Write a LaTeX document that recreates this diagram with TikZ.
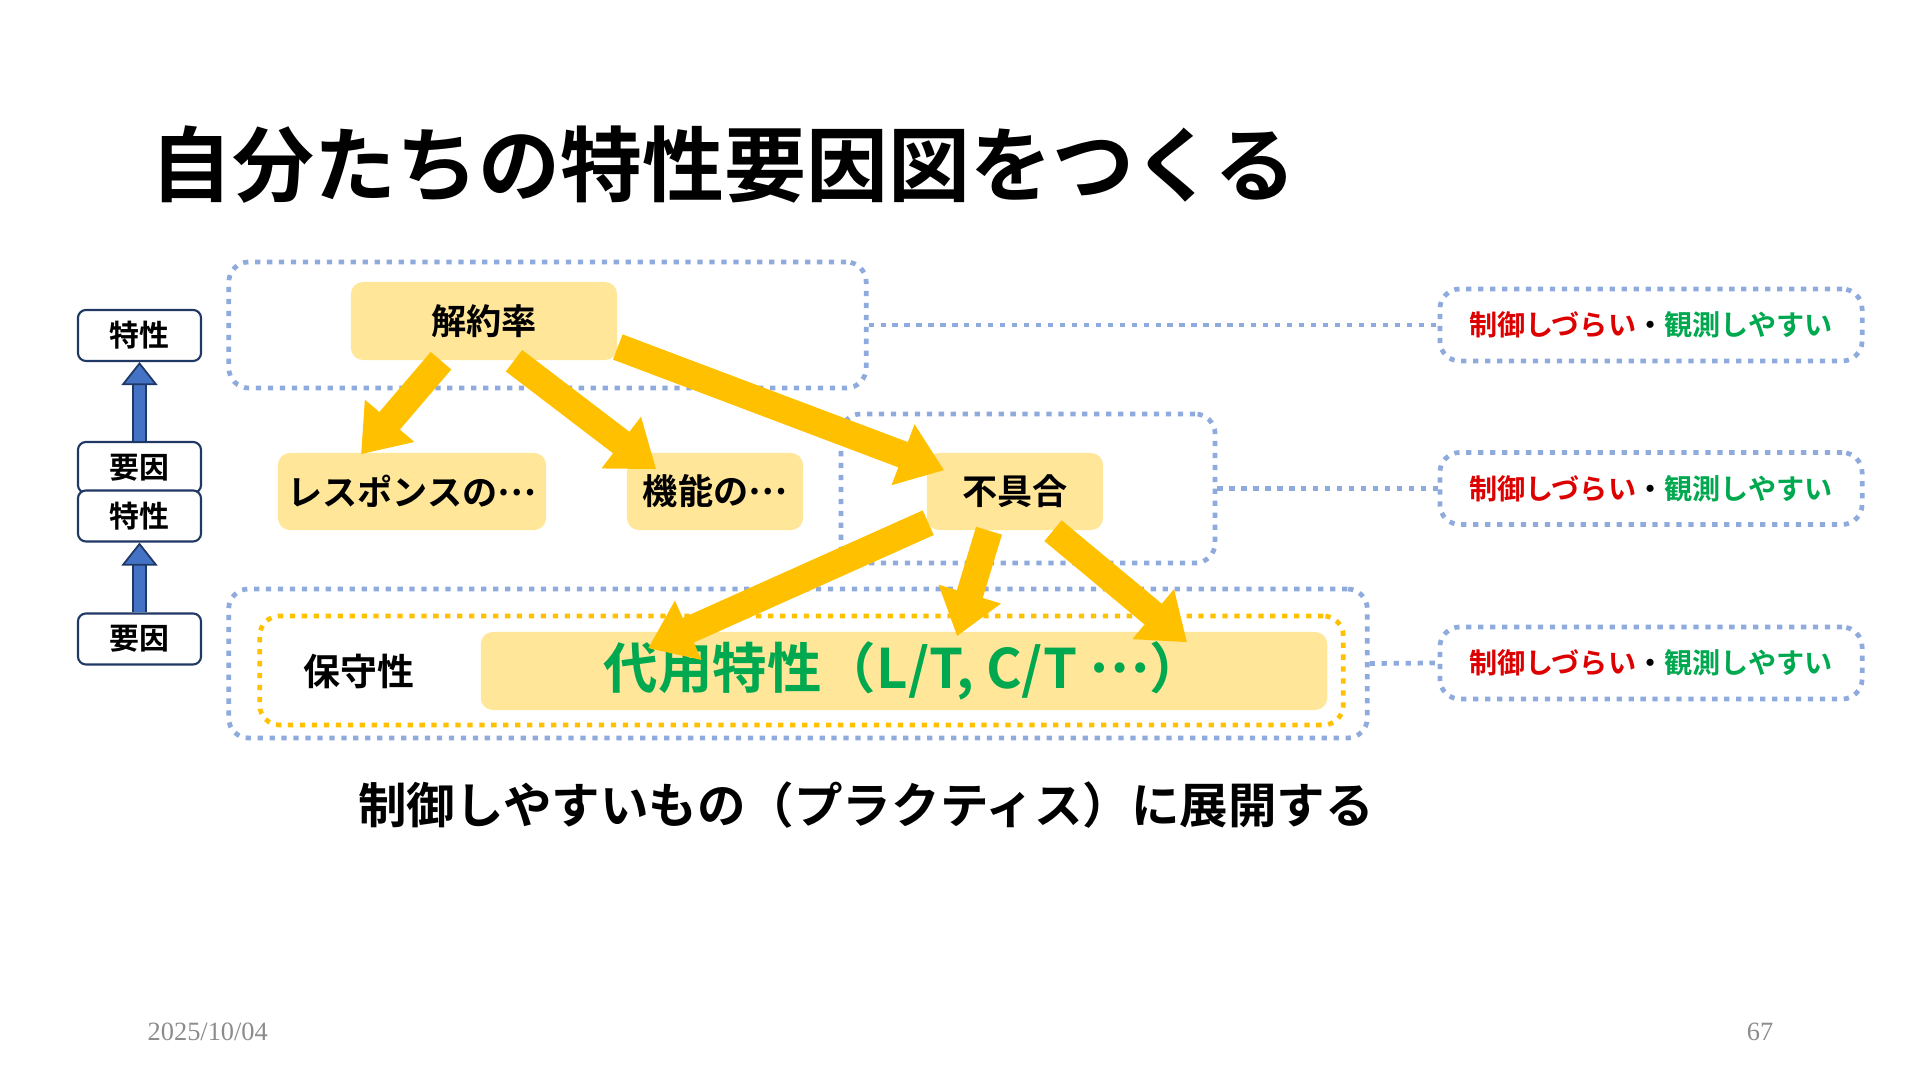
\documentclass[tikz,border=0pt]{standalone}
\usepackage{fontspec}
\setmainfont{Noto Sans CJK JP}[BoldFont={* Bold}]
\newfontfamily\footfont{Liberation Serif}
\newcommand{\jellip}{\raisebox{0.3em}{…}}
\usetikzlibrary{arrows.meta,calc}

\definecolor{cellyellow}{HTML}{FFE699}
\definecolor{arrowgold}{HTML}{FFC000}
\definecolor{dotblue}{HTML}{8FAADC}
\definecolor{textgreen}{HTML}{00A84F}
\definecolor{textred}{HTML}{DD0000}
\definecolor{navy}{HTML}{1F3864}
\definecolor{upblue}{HTML}{4472C4}
\definecolor{footgray}{HTML}{8C8C8C}

\begin{document}
\begin{tikzpicture}[x=0.01cm,y=-0.01cm,
  cell/.style={fill=cellyellow,rounded corners=0.12cm,inner sep=0pt,
    font=\fontsize{10}{12}\selectfont\bfseries},
  group/.style={draw=dotblue,line width=1.35pt,dash pattern=on 1.5pt off 1.9pt,
    rounded corners=0.2cm,inner sep=0pt},
  levelbox/.style={draw=navy,line width=0.6pt,fill=white,rounded corners=0.08cm,
    minimum width=1.23cm,minimum height=0.51cm,inner sep=0pt,
    font=\fontsize{8.5}{10}\selectfont\bfseries},
  notebox/.style={group,minimum width=4.22cm,minimum height=0.72cm,
    font=\fontsize{8}{10}\selectfont\bfseries},
  flow/.style={draw=arrowgold,line width=0.27cm,-{Triangle[width=0.62cm,length=0.44cm]}},
  rise/.style={draw=upblue,line width=0.11cm,
    -{Triangle[width=0.36cm,length=0.23cm,fill=upblue,color=navy,line width=0.5pt]},
    preaction={draw=navy,line width=0.14cm,-,shorten >=0.2cm}},
]
  \useasboundingbox (0,0) rectangle (1920,1080);

  % title
  \node[anchor=west,inner sep=0pt,font=\fontsize{23.3}{27}\selectfont\bfseries] (title) at (150,165)
    {自分たちの特性要因図をつくる};

  % dotted groups
  \node[group,minimum width=6.37cm,minimum height=1.26cm] (grpTop) at (547.5,325) {};
  \node[group,minimum width=3.74cm,minimum height=1.49cm] (grpMid) at (1028,488.5) {};
  \node[group,minimum width=11.38cm,minimum height=1.49cm] (grpBot) at (798,663.5) {};
  \node[group,draw=arrowgold,minimum width=10.83cm,minimum height=1.09cm] (grpKeep) at (801.5,670.5) {};

  % notes on the right
  \foreach \n/\y in {1/325,2/488.5,3/663}
    \node[notebox] (note\n) at (1651,\y)
      {{\color{textred}制御しづらい}・{\color{textgreen}観測しやすい}};
  \draw[group] (grpTop.east) -- (note1.west);
  \draw[group] (grpMid.east) -- (note2.west);
  \draw[group] (grpBot.east) -- (note3.west);

  % cells
  \node[cell,minimum width=2.66cm,minimum height=0.78cm] (kaiyaku) at (484,321) {解約率};
  \node[cell,minimum width=2.68cm,minimum height=0.77cm] (resp) at (412,491.5) {レスポンスの\jellip};
  \node[cell,minimum width=1.76cm,minimum height=0.77cm] (kino) at (715,491.5) {機能の\jellip};
  \node[cell,minimum width=1.76cm,minimum height=0.77cm] (fuguai) at (1015,491.5) {不具合};
  \node[cell,minimum width=8.46cm,minimum height=0.78cm,text=textgreen,
    font=\fontsize{15.5}{18}\selectfont\bfseries] (daiyo) at (904,671) {代用特性（L/T, C/T \jellip）};
  \node[font=\fontsize{10.5}{12}\selectfont\bfseries] (hoshu) at (359,671) {保守性};

  % arrows between cells
  \draw[flow] ($(kaiyaku.south)+(-43,0)$) -- ($(resp.north)+(-51,2)$);
  \draw[flow] ($(kaiyaku.south)+(30,0)$) -- ($(kino.north west)+(30,17)$);
  \draw[flow] ($(kaiyaku.east)+(0,26)$) -- ($(fuguai.north west)+(18,18)$);
  \draw[flow] ($(fuguai.south west)+(2,-8)$) -- ($(daiyo.north west)+(168,17)$);
  \draw[flow] ($(fuguai.south)+(-26,0)$) -- ($(daiyo.north west)+(477,5)$);
  \draw[flow] ($(fuguai.south)+(38,0)$) -- ($(daiyo.north west)+(707,11)$);

  % level column
  \node[levelbox] (tokusei1) at (139.5,335.5) {特性};
  \node[levelbox] (yoin1) at (139.5,467.5) {要因};
  \node[levelbox] (tokusei2) at (139.5,516) {特性};
  \node[levelbox] (yoin2) at (139.5,639) {要因};
  \draw[rise] (yoin1.north) -- (tokusei1.south);
  \draw[rise] (yoin2.north) -- (tokusei2.south);

  % summary
  \node[font=\fontsize{13.8}{17}\selectfont\bfseries] (summary) at (866,805)
    {制御しやすいもの（プラクティス）に展開する};

  % footer
  \node[anchor=west,inner sep=0pt,text=footgray,font=\footfont\fontsize{7.5}{9}\selectfont] (date) at (147,1032) {2025/10/04};
  \node[inner sep=0pt,text=footgray,font=\footfont\fontsize{7.5}{9}\selectfont] (page) at (1760,1032) {67};
\end{tikzpicture}
\end{document}
